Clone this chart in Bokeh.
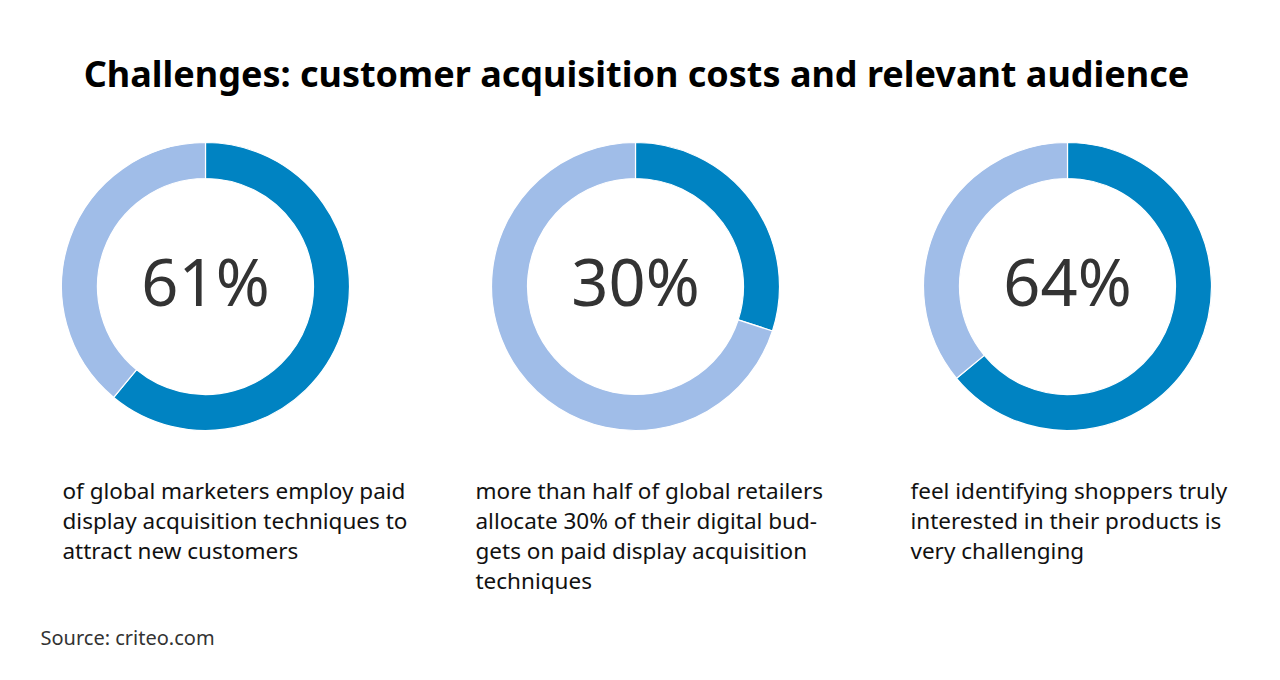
from bokeh.plotting import figure
from bokeh.models import Range1d
from bokeh.core.properties import value
from bokeh.embed import file_html
from bokeh.resources import INLINE
import math

title = "Challenges: customer acquisition costs and relevant audience"
shares = [61, 30, 64]
labels = ["61%", "30%", "64%"]
captions = [
    ["of global marketers employ paid", "display acquisition techniques to", "attract new customers"],
    ["more than half of global retailers", "allocate 30% of their digital bud-", "gets on paid display acquisition", "techniques"],
    ["feel identifying shoppers truly", "interested in their products is", "very challenging"],
]
source = "Source: criteo.com"

W, H = 1280, 680
p = figure(width=W, height=H, output_backend="svg", toolbar_location=None,
           x_range=Range1d(0, W), y_range=Range1d(0, H), min_border=0)
p.axis.visible = False
p.grid.visible = False
p.outline_line_color = None
p.background_fill_color = "white"
p.border_fill_color = "white"

FONT = "Noto Sans"
centers_x = [205, 635, 1067]
cy = H - 286
dark = "#0083C2"
light = "#A0BDE8"

for i, (cx, s) in enumerate(zip(centers_x, shares)):
    frac = s / 100.0
    top = math.pi / 2
    split = top - frac * 2 * math.pi
    p.annular_wedge(x=[cx], y=[cy], inner_radius=108, outer_radius=144,
                    inner_radius_units="screen", outer_radius_units="screen",
                    start_angle=[split], end_angle=[top], direction="anticlock",
                    fill_color=dark, line_color="white", line_width=1.2)
    p.annular_wedge(x=[cx], y=[cy], inner_radius=108, outer_radius=144,
                    inner_radius_units="screen", outer_radius_units="screen",
                    start_angle=[top], end_angle=[split + 2 * math.pi], direction="anticlock",
                    fill_color=light, line_color="white", line_width=1.2)
    p.text(x=[cx], y=[cy + 6], text=[labels[i]], text_align="center", text_baseline="middle",
           text_font=value(FONT), text_font_size="65px", text_color="#333333")

text_x = [62, 475, 910]
for tx, lines in zip(text_x, captions):
    for j, line in enumerate(lines):
        p.text(x=[tx], y=[H - 490 - 30 * j], text=[line], text_align="left",
               text_baseline="alphabetic", text_font=value(FONT), text_font_size="22.5px",
               text_color="#111111")

p.text(x=[W / 2 - 4], y=[H - 73], text=[title], text_align="center", text_baseline="alphabetic",
       text_font=value(FONT), text_font_size="36px", text_font_style="bold", text_color="#000000")

p.text(x=[40], y=[H - 637], text=[source], text_align="left", text_baseline="alphabetic",
       text_font=value(FONT), text_font_size="20px", text_color="#333333")

open("out.html", "w").write(file_html(p, INLINE))
